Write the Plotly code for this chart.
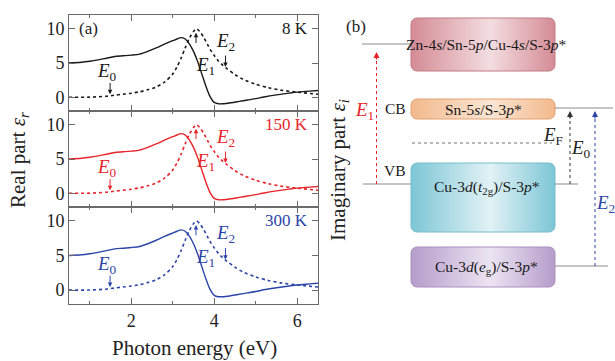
import numpy as np
import plotly.graph_objects as go

# ---------------- data ----------------
energy_r = [0.5, 0.8, 1.0, 1.2, 1.4, 1.6, 1.8, 2.0, 2.2, 2.4, 2.6, 2.8, 3.0, 3.1, 3.2, 3.3,
            3.4, 3.5, 3.6, 3.7, 3.8, 3.9, 4.0, 4.1, 4.2, 4.4, 4.6, 4.8, 5.0, 5.2, 5.5,
            5.8, 6.0, 6.3, 6.5]
eps_r = [5.0, 5.1, 5.25, 5.45, 5.7, 5.95, 6.05, 6.15, 6.3, 6.7, 7.2, 7.75, 8.25, 8.5, 8.7, 8.5,
         7.8, 6.7, 5.2, 3.4, 1.6, 0.1, -0.75, -0.95, -0.95, -0.8, -0.6, -0.4, -0.2, 0.05, 0.35,
         0.6, 0.75, 0.9, 1.0]
energy_i = [0.5, 1.0, 1.4, 1.6, 1.8, 2.0, 2.2, 2.4, 2.6, 2.8, 3.0, 3.1, 3.2, 3.3, 3.4, 3.5,
            3.57, 3.65, 3.75, 3.9, 4.0, 4.1, 4.2, 4.3, 4.5, 4.7, 5.0, 5.3, 5.6, 6.0, 6.5]
eps_i = [0.0, 0.02, 0.15, 0.3, 0.45, 0.6, 0.8, 1.1, 1.5, 2.2, 3.4, 4.4, 5.7, 7.2, 8.6, 9.6,
         10.0, 9.6, 8.7, 7.0, 6.1, 5.3, 4.7, 4.2, 3.3, 2.6, 1.9, 1.4, 1.05, 0.75, 0.45]

temperatures = ["8 K", "150 K", "300 K"]
series_colors = ["#1a1a1a", "#e8232a", "#2b45a8"]
x_tickvals = [2, 4, 6]
y_tickvals = [0, 5, 10]
x_range = [0.5, 6.5]
y_range = [-2, 12]

# critical-point arrows: (x, tail_y, tip_y)
E0_arrow = (1.49, 2.3, 0.45)
E1_arrow = (3.56, 7.7, 9.4)
E2_arrow = (4.27, 6.3, 4.4)

W, H = 615, 361
SERIF = "Liberation Serif"


def px(x):
    return x / W


def py(y):
    return 1 - y / H


fig = go.Figure()

panel_px = [(15, 111), (111, 207), (207, 304)]
axis_names = [("x", "y"), ("x2", "y2"), ("x3", "y3")]

for k, (temp, col) in enumerate(zip(temperatures, series_colors)):
    xa, ya = axis_names[k]
    fig.add_trace(go.Scatter(x=energy_r, y=eps_r, mode="lines", xaxis=xa, yaxis=ya,
                             line=dict(color=col, width=1.4, shape="spline", smoothing=0.8),
                             showlegend=False, hoverinfo="skip"))
    fig.add_trace(go.Scatter(x=energy_i, y=eps_i, mode="lines", xaxis=xa, yaxis=ya,
                             line=dict(color=col, width=1.6, dash="dot", shape="spline", smoothing=0.8),
                             showlegend=False, hoverinfo="skip"))

    top, bot = panel_px[k]
    axis_common = dict(showline=True, linecolor="#6a6a6a", linewidth=1, mirror="ticks",
                       ticks="inside", tickcolor="#6a6a6a", showgrid=False, zeroline=False,
                       tickfont=dict(family=SERIF, size=18, color="#222"))
    xkey = "xaxis" if k == 0 else f"xaxis{k+1}"
    ykey = "yaxis" if k == 0 else f"yaxis{k+1}"
    fig.update_layout({
        xkey: dict(axis_common, domain=[px(69), px(318)], range=x_range, tickvals=x_tickvals,
                   ticklen=6, anchor=ya, showticklabels=(k == 2), ticklabelstandoff=0,
                   minor=dict(ticks="inside", ticklen=3, dtick=1, tick0=0.0, tickcolor="#6a6a6a")),
        ykey: dict(axis_common, domain=[py(bot), py(top)], range=y_range, tickvals=y_tickvals,
                   ticklen=6, anchor=xa),
    })

    xr, yr = xa, ya
    ann_font = dict(family=SERIF, size=19, color=col)
    fig.add_annotation(x=6.3, y=10.1, xref=xr, yref=yr, text=temp, showarrow=False,
                       xanchor="right", yanchor="middle", font=dict(family=SERIF, size=17, color=col))
    for xx, yy, t in ((1.42, 3.7, "<i>E</i><sub>0</sub>"), (3.8, 4.6, "<i>E</i><sub>1</sub>"),
                      (4.28, 8.1, "<i>E</i><sub>2</sub>")):
        fig.add_annotation(x=xx, y=yy, xref=xr, yref=yr, text=t, showarrow=False,
                           xanchor="center", yanchor="middle", font=ann_font)
    for (ax_, tail, tip) in (E0_arrow, E1_arrow, E2_arrow):
        fig.add_annotation(x=ax_, y=tip, ax=ax_, ay=tail, xref=xr, yref=yr,
                           axref=xr, ayref=yr, text="", showarrow=True, arrowhead=2,
                           arrowsize=0.9, arrowwidth=1, arrowcolor=col)

fig.add_annotation(x=0.98, y=10.0, xref="x", yref="y", text="(a)", showarrow=False,
                   xanchor="center", yanchor="middle",
                   font=dict(family=SERIF, size=17, color="#222"))

fig.add_annotation(x=px(19), y=py(160), xref="paper", yref="paper",
                   text="Real part <i>ε</i><sub><i>r</i></sub>", textangle=-90,
                   xanchor="center", yanchor="middle",
                   showarrow=False, font=dict(family=SERIF, size=21, color="#222"))
fig.add_annotation(x=px(194), y=py(348), xref="paper", yref="paper",
                   text="Photon energy (eV)", showarrow=False,
                   xanchor="center", yanchor="middle",
                   font=dict(family=SERIF, size=21, color="#222"))

# ---------------- panel (b): energy level diagram ----------------
fig.update_layout(
    xaxis4=dict(domain=[px(330), 1], range=[330, 615], visible=False, anchor="y4"),
    yaxis4=dict(domain=[0, 1], range=[361, 0], visible=False, anchor="x4"),
)


def rounded_rect(x0, y0, x1, y1, r=6, n=8):
    xs, ys = [], []
    corners = [(x1 - r, y0 + r, -90, 0), (x1 - r, y1 - r, 0, 90),
               (x0 + r, y1 - r, 90, 180), (x0 + r, y0 + r, 180, 270)]
    for cx, cy, a0, a1 in corners:
        for a in np.linspace(np.radians(a0), np.radians(a1), n):
            xs.append(cx + r * np.cos(a))
            ys.append(cy + r * np.sin(a))
    xs.append(xs[0]); ys.append(ys[0])
    return xs, ys


boxes = [
    (411, 18, 555, 71, "#d48b95", "#f3dde0", "#c07a86"),
    (411, 99, 555, 119, "#f2b98c", "#fbe6d4", "#e2a272"),
    (411, 163, 555, 232, "#7cc6d6", "#e2f2f5", "#78bccb"),
    (411, 247, 555, 287, "#b59cca", "#ece4f2", "#a98fbf"),
]

level_lines = [
    (362, 411, 44), (555, 613, 108), (363, 411, 184), (555, 578, 184), (555, 608, 266),
]
for x0, x1, y in level_lines:
    fig.add_shape(type="line", x0=x0, x1=x1, y0=y, y1=y, xref="x4", yref="y4",
                  line=dict(color="#8a8a8a", width=1))

for x0, y0, x1, y1, dark, light, edge in boxes:
    xs, ys = rounded_rect(x0, y0, x1, y1)
    fig.add_trace(go.Scatter(x=xs, y=ys, xaxis="x4", yaxis="y4", mode="lines", fill="toself",
                             fillgradient=dict(type="horizontal",
                                               colorscale=[[0, dark], [0.55, light], [1, dark]]),
                             line=dict(color=edge, width=1), showlegend=False, hoverinfo="skip"))

fig.add_shape(type="line", x0=412, x1=552, y0=143, y1=143, xref="x4", yref="y4",
              line=dict(color="#707070", width=1, dash="dot"))

transitions = [(376.5, 184, 52, "#e8232a"), (570, 184, 111, "#333333"), (595, 266, 111, "#2b45a8")]
for x, yb, yt, c in transitions:
    fig.add_shape(type="line", x0=x, x1=x, y0=yb, y1=yt + 4, xref="x4", yref="y4",
                  line=dict(color=c, width=1, dash="dot"))
    fig.add_annotation(x=x, y=yt, ax=x, ay=yt + 9, xref="x4", yref="y4", axref="x4", ayref="y4",
                       text="", showarrow=True, arrowhead=2, arrowsize=1, arrowwidth=1.2,
                       arrowcolor=c)

box_font = dict(family=SERIF, size=15.5, color="#1a1a1a")
texts = [
    (486, 44, "Zn-4<i>s</i>/Sn-5<i>p</i>/Cu-4<i>s</i>/S-3<i>p</i>*"),
    (483, 109, "Sn-5<i>s</i>/S-3<i>p</i>*"),
    (487, 187, "Cu-3<i>d</i>(<i>t</i><sub>2g</sub>)/S-3<i>p</i>*"),
    (486, 267, "Cu-3<i>d</i>(<i>e</i><sub>g</sub>)/S-3<i>p</i>*"),
    (395, 108, "CB"),
    (395, 170, "VB"),
]
for x, y, t in texts:
    fig.add_annotation(x=x, y=y, xref="x4", yref="y4", text=t, showarrow=False,
                       xanchor="center", yanchor="middle", font=box_font)

fig.add_annotation(x=356, y=26, xref="x4", yref="y4", text="(b)", showarrow=False,
                   xanchor="center", yanchor="middle",
                   font=dict(family=SERIF, size=17, color="#222"))
elab = [(364, 111, "<i>E</i><sub>1</sub>", "#e8232a"), (553, 136, "<i>E</i><sub>F</sub>", "#222"),
        (581, 149, "<i>E</i><sub>0</sub>", "#222"), (605, 204, "<i>E</i><sub>2</sub>", "#2b45a8")]
for x, y, t, c in elab:
    fig.add_annotation(x=x, y=y, xref="x4", yref="y4", text=t, showarrow=False,
                       xanchor="center", yanchor="middle",
                       font=dict(family=SERIF, size=19, color=c))

fig.add_annotation(x=339, y=170, xref="x4", yref="y4",
                   text="Imaginary part <i>ε</i><sub><i>i</i></sub>", textangle=-90,
                   xanchor="center", yanchor="middle",
                   showarrow=False, font=dict(family=SERIF, size=21, color="#222"))

fig.update_layout(width=W, height=H, margin=dict(l=0, r=0, t=0, b=0),
                  paper_bgcolor="white", plot_bgcolor="rgba(0,0,0,0)",
                  font=dict(family=SERIF))

fig.write_html("out.html", config={"displayModeBar": False},
               post_script="document.body.style.margin='0';document.body.style.overflow='hidden';")
